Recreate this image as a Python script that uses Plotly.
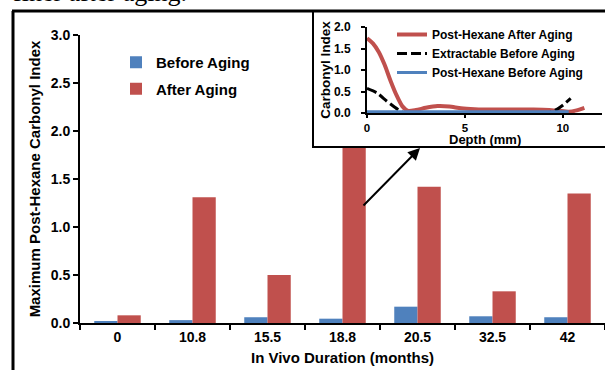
import plotly.graph_objects as go

# ---------------- data ----------------
durations = ["0", "10.8", "15.5", "18.8", "20.5", "32.5", "42"]
before_aging = [0.02, 0.03, 0.06, 0.045, 0.17, 0.07, 0.06]
after_aging = [0.08, 1.31, 0.50, 1.95, 1.42, 0.33, 1.35]

# inset: carbonyl index profiles vs depth (mm)
red_depth = [0, 0.3, 0.6, 0.9, 1.2, 1.5, 1.8, 2.1, 2.5, 3.0, 3.6, 4.2, 4.8, 5.5, 6.5, 7.5, 8.5, 9.3, 9.8, 10.3, 10.7, 11.1]
red_ci = [1.74, 1.62, 1.42, 1.12, 0.75, 0.42, 0.16, 0.05, 0.07, 0.12, 0.16, 0.15, 0.11, 0.09, 0.08, 0.08, 0.08, 0.07, 0.05, 0.03, 0.06, 0.12]
blk_depth = [0, 0.5, 1.0, 1.4, 1.75, 2.0, 4.0, 6.0, 8.0, 9.2, 9.6, 10.0, 10.4]
blk_ci = [0.57, 0.47, 0.28, 0.14, 0.03, 0.0, 0.0, 0.0, 0.0, 0.0, 0.06, 0.18, 0.34]
blue_depth = [0, 2, 4, 6, 8, 10.3]
blue_ci = [0.03, 0.03, 0.03, 0.03, 0.03, 0.03]

main_yticks = [0.0, 0.5, 1.0, 1.5, 2.0, 2.5, 3.0]
inset_yticks = [0.0, 0.5, 1.0, 1.5, 2.0]
inset_xticks = [0, 5, 10]

BLUE = "#4F81BD"
RED = "#C0504D"
W, H = 605, 370
FONT = "Liberation Sans, Arial, sans-serif"


def fx(p):
    return p / W


def fy(p):
    return 1 - p / H


fig = go.Figure()

# main bars
fig.add_trace(go.Bar(x=durations, y=before_aging, name="Before Aging",
                     marker=dict(color=BLUE, line=dict(width=0)),
                     legendgroup="a", xaxis="x", yaxis="y", legend="legend"))
fig.add_trace(go.Bar(x=durations, y=after_aging, name="After Aging",
                     marker=dict(color=RED, line=dict(width=0)),
                     legendgroup="b", xaxis="x", yaxis="y", legend="legend"))

# white background subplot for the inset box (covers the main plot)
fig.add_trace(go.Scatter(x=[], y=[], xaxis="x2", yaxis="y2", showlegend=False,
                         hoverinfo="skip"))

# inset lines
fig.add_trace(go.Scatter(x=red_depth, y=red_ci, mode="lines", name="Post-Hexane After Aging",
                         line=dict(color=RED, width=4, shape="spline", smoothing=0.6),
                         xaxis="x3", yaxis="y3", legend="legend2"))
fig.add_trace(go.Scatter(x=blk_depth, y=blk_ci, mode="lines", name="Extractable Before Aging",
                         line=dict(color="black", width=3, dash="10px,4px", shape="spline", smoothing=0.5),
                         xaxis="x3", yaxis="y3", legend="legend2"))
fig.add_trace(go.Scatter(x=blue_depth, y=blue_ci, mode="lines", name="Post-Hexane Before Aging",
                         line=dict(color=BLUE, width=3),
                         xaxis="x3", yaxis="y3", legend="legend2"))

tick_font = dict(family=FONT, size=14, color="black", weight="bold")
title_font = dict(family=FONT, size=15, color="black", weight="bold")
inset_tick_font = dict(family=FONT, size=12, color="black", weight="bold")
inset_xtick_font = dict(family=FONT, size=11.5, color="black", weight="bold")
inset_title_font = dict(family=FONT, size=13.5, color="black", weight="bold")
inset_xtitle_font = dict(family=FONT, size=13, color="black", weight="bold")

fig.update_layout(
    template="none",
    width=W, height=H,
    margin=dict(l=0, r=0, t=0, b=0, autoexpand=False),
    paper_bgcolor="white", plot_bgcolor="white",
    font=dict(family=FONT, color="black"),
    barmode="group", bargap=0.38, bargroupgap=0,
    xaxis=dict(domain=[fx(80), 1], anchor="y", type="category", automargin=False,
               categoryorder="array", categoryarray=durations,
               showline=True, linecolor="black", linewidth=2,
               ticks="outside", tickson="boundaries", ticklen=5, tickwidth=2, tickcolor="black",
               tickfont=tick_font, showgrid=False,
               title=dict(text="In Vivo Duration (months)", font=title_font, standoff=9)),
    yaxis=dict(domain=[fy(323), fy(35)], anchor="x", range=[0, 3], automargin=False,
               tickvals=main_yticks, tickformat=".1f",
               showline=True, linecolor="black", linewidth=2,
               ticks="outside", ticklen=5, tickwidth=2, tickcolor="black",
               tickfont=tick_font, showgrid=False, zeroline=False,
               title=dict(text="Maximum Post-Hexane Carbonyl Index", font=title_font, standoff=6)),
    xaxis2=dict(domain=[fx(313), 1], anchor="y2", range=[0, 1], visible=False, automargin=False),
    yaxis2=dict(domain=[fy(147), fy(10)], anchor="x2", range=[0, 1], visible=False, automargin=False),
    xaxis3=dict(domain=[fx(367), fx(602)], anchor="y3", range=[0, 12], automargin=False,
                tickvals=inset_xticks, showline=True, linecolor="black", linewidth=2,
                ticks="outside", ticklen=3, tickwidth=2, tickcolor="black",
                tickfont=inset_xtick_font, showgrid=False, zeroline=False),
    yaxis3=dict(domain=[fy(113), fy(27)], anchor="x3", range=[0, 2], automargin=False,
                tickvals=inset_yticks, tickformat=".1f",
                showline=True, linecolor="black", linewidth=2,
                ticks="outside", ticklen=4, tickwidth=2, tickcolor="black",
                ticklabelstandoff=8,
                tickfont=inset_tick_font, showgrid=False, zeroline=False,
                title=dict(text="Carbonyl Index", font=inset_title_font, standoff=0)),
    legend=dict(x=fx(116), y=fy(46), xanchor="left", yanchor="top",
                bgcolor="rgba(0,0,0,0)", font=title_font,
                traceorder="grouped", tracegroupgap=4),
    legend2=dict(x=fx(392), y=fy(20), xanchor="left", yanchor="top",
                 bgcolor="rgba(0,0,0,0)", font=dict(family=FONT, size=12, color="black", weight="bold"),
                 tracegroupgap=0),
    shapes=[
        # outer frame (top + left)
        dict(type="line", xref="paper", yref="paper", x0=fx(12), x1=1.01, y0=fy(11), y1=fy(11),
             line=dict(color="black", width=3), layer="above"),
        dict(type="line", xref="paper", yref="paper", x0=fx(13), x1=fx(13), y0=fy(11), y1=-0.01,
             line=dict(color="black", width=3), layer="above"),
        # inset box
        dict(type="rect", xref="paper", yref="paper", x0=fx(313), x1=1.01, y0=fy(147), y1=fy(11),
             line=dict(color="black", width=2), fillcolor="rgba(0,0,0,0)", layer="above"),
    ],
    annotations=[
        dict(text="finer after aging.", xref="paper", yref="paper", x=fx(11), y=fy(-8),
             xanchor="left", yanchor="middle", showarrow=False,
             font=dict(family="Liberation Serif, Times New Roman, serif", size=26, color="black")),
        # inset x-axis title (sits tight under the tick labels, as in the reference)
        dict(text="Depth (mm)", xref="x3 domain", yref="paper", x=0.5, y=fy(139.5),
             xanchor="center", yanchor="middle", showarrow=False, font=inset_xtitle_font,
             borderpad=0),
        dict(text="", xref="paper", yref="paper", x=fx(420), y=fy(148),
             ax=-58, ay=59, axref="pixel", ayref="pixel",
             showarrow=True, arrowhead=2, arrowsize=1.2, arrowwidth=2, arrowcolor="black"),
    ],
)

fig.write_html("out.html", config={"displayModeBar": False},
               post_script="document.body.style.margin='0';")
